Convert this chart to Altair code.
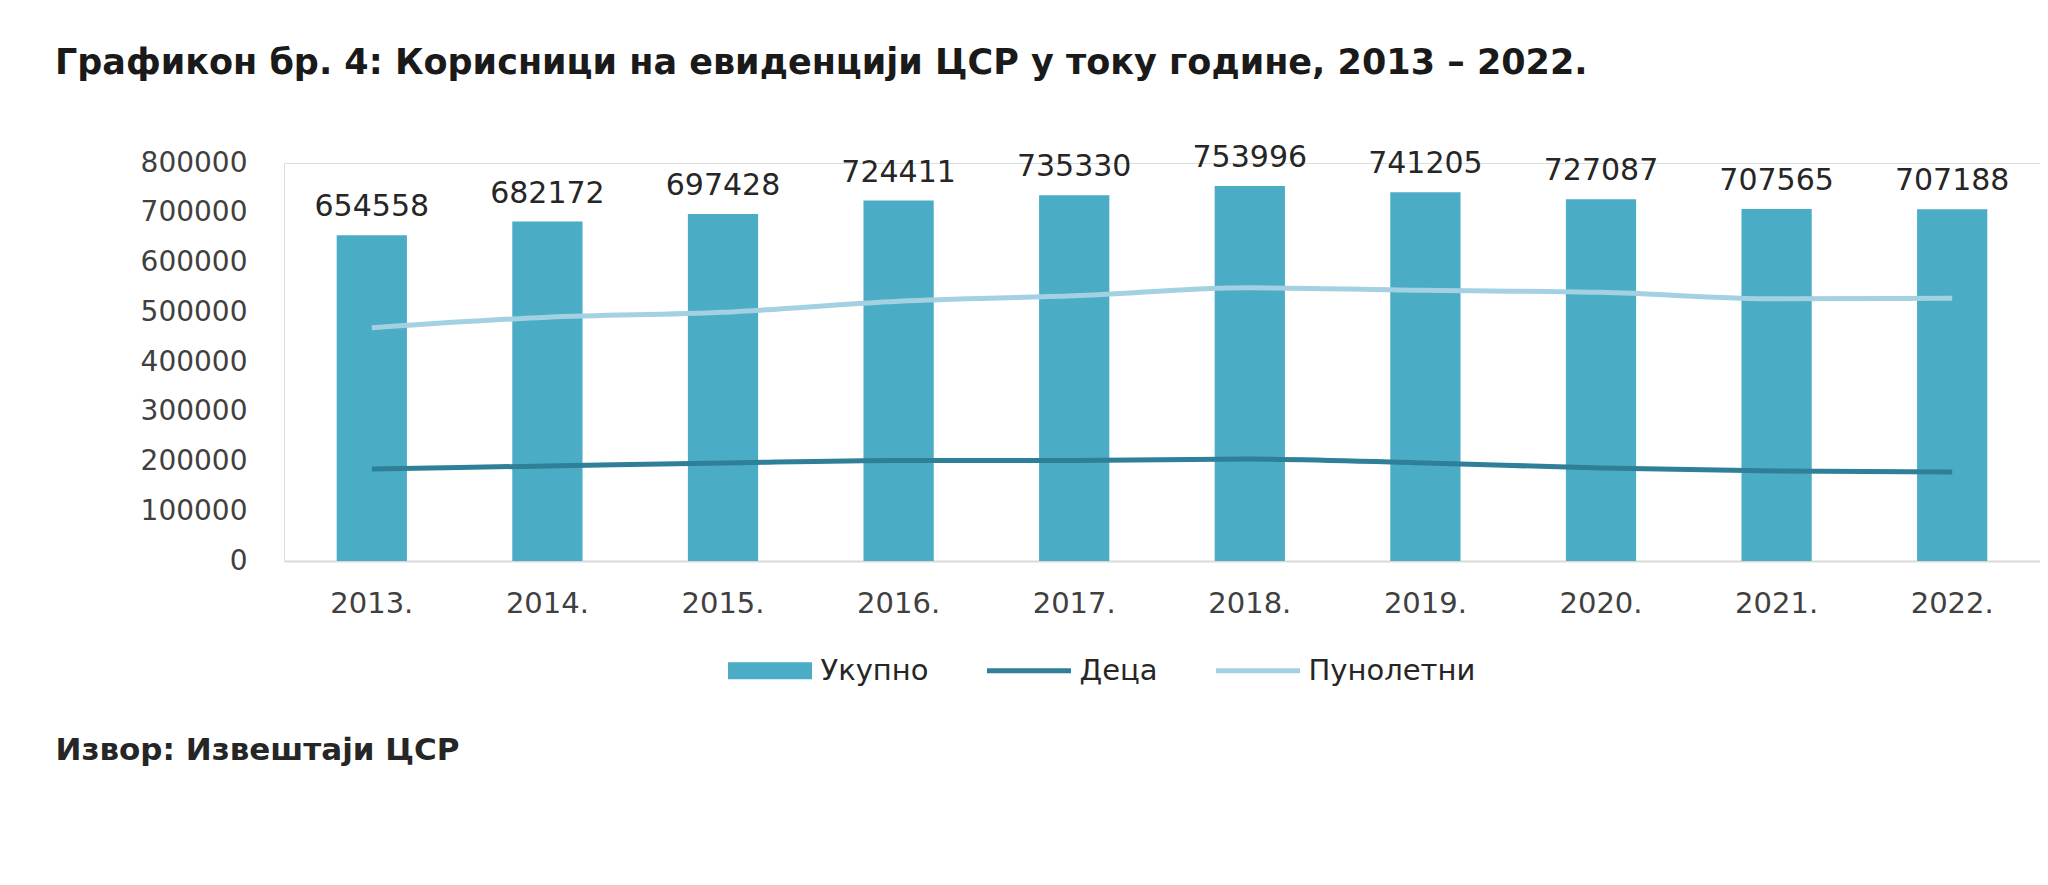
import altair as alt
import pandas as pd

years = ["2013.", "2014.", "2015.", "2016.", "2017.", "2018.", "2019.", "2020.", "2021.", "2022."]
ukupno = [654558, 682172, 697428, 724411, 735330, 753996, 741205, 727087, 707565, 707188]
deca = [185000, 191000, 197000, 202000, 202000, 205000, 197000, 187000, 181000, 179000]
punoletni = [469000, 490000, 500000, 522000, 533000, 549000, 544000, 540000, 527000, 528000]
series_names = ["Укупно", "Деца", "Пунолетни"]
series_colors = ["#4bacc6", "#2f7f98", "#a3d1e1"]
y_ticks = [0, 100000, 200000, 300000, 400000, 500000, 600000, 700000, 800000]
title_text = "Графикон бр. 4: Корисници на евиденцији ЦСР у току године, 2013 – 2022."
source_text = "Извор: Извештаји ЦСР"

bars_df = pd.DataFrame({"year": years, "value": ukupno, "series": series_names[0]})
lines_df = pd.concat([
    pd.DataFrame({"year": years, "value": deca, "series": series_names[1]}),
    pd.DataFrame({"year": years, "value": punoletni, "series": series_names[2]}),
])

FONT = "DejaVu Sans"
rect_path = "M-1,-0.2L1,-0.2L1,0.2L-1,0.2Z"

color_scale = alt.Scale(domain=series_names, range=series_colors)
legend = alt.Legend(
    title=None,
    orient="none",
    direction="horizontal",
    legendX=444,
    legendY=493,
    labelFont=FONT,
    labelFontSize=29,
    labelColor="#262626",
    labelOffset=36,
    labelLimit=400,
    symbolOffset=27.5,
    columnPadding=48,
    symbolSize=7056,
    symbolOpacity=1,
    symbolType=alt.ExprRef(expr=f"datum.value === 'Укупно' ? '{rect_path}' : 'stroke'"),
    symbolStrokeWidth=alt.ExprRef(expr="datum.value === 'Укупно' ? 0 : 5"),
    symbolFillColor=alt.ExprRef(expr="datum.value === 'Укупно' ? '#4bacc6' : 'transparent'"),
    symbolStrokeColor=alt.ExprRef(expr="datum.value === 'Деца' ? '#2f7f98' : (datum.value === 'Пунолетни' ? '#a3d1e1' : 'transparent')"),
)

x_enc = alt.X(
    "year:N",
    sort=years,
    scale=alt.Scale(paddingInner=0.6, paddingOuter=0.3),
    axis=alt.Axis(
        labelAngle=0,
        labelFont=FONT,
        labelFontSize=29,
        labelColor="#404040",
        labelPadding=28,
        ticks=False,
        domainColor="#d9d9d9",
        domainWidth=2,
        title=source_text,
        titleX=-229,
        titleY=189,
        titleAlign="left",
        titleBaseline="middle",
        titleFont=FONT,
        titleFontSize=31,
        titleFontWeight="bold",
        titleColor="#262626",
    ),
)
y_enc = alt.Y(
    "value:Q",
    scale=alt.Scale(domain=[0, 800000], nice=False),
    axis=alt.Axis(
        values=y_ticks,
        format="d",
        labelFont=FONT,
        labelFontSize=28,
        labelColor="#404040",
        labelPadding=37,
        ticks=False,
        domain=False,
        grid=False,
        title=None,
    ),
)

bars = alt.Chart(bars_df).mark_bar().encode(
    x=x_enc,
    y=y_enc,
    color=alt.Color("series:N", scale=color_scale, legend=legend, sort=series_names),
)

lines = alt.Chart(lines_df).mark_line(strokeWidth=5, interpolate="monotone").encode(
    x=alt.X("year:N", sort=years),
    y="value:Q",
    color=alt.Color("series:N", scale=color_scale, legend=legend, sort=series_names),
)

labels = alt.Chart(bars_df).mark_text(
    baseline="alphabetic", dy=-19, font=FONT, fontSize=30, color="#262626"
).encode(
    x=alt.X("year:N", sort=years),
    y="value:Q",
    text=alt.Text("value:Q", format="d"),
)

chart = alt.layer(bars, lines, labels).properties(
    width=1756,
    height=398,
    autosize=alt.AutoSizeParams(type="none"),
    padding={"left": 276, "top": 155, "right": 0, "bottom": 230},
    title=alt.TitleParams(
        title_text,
        anchor="start",
        frame="group",
        dx=-229,
        offset=62,
        font=FONT,
        fontSize=35,
        fontWeight="bold",
        color="#1a1a1a",
    ),
).configure_view(stroke=None).configure(background="white")

chart.save("out.html", embed_options={"renderer": "svg", "actions": False})
